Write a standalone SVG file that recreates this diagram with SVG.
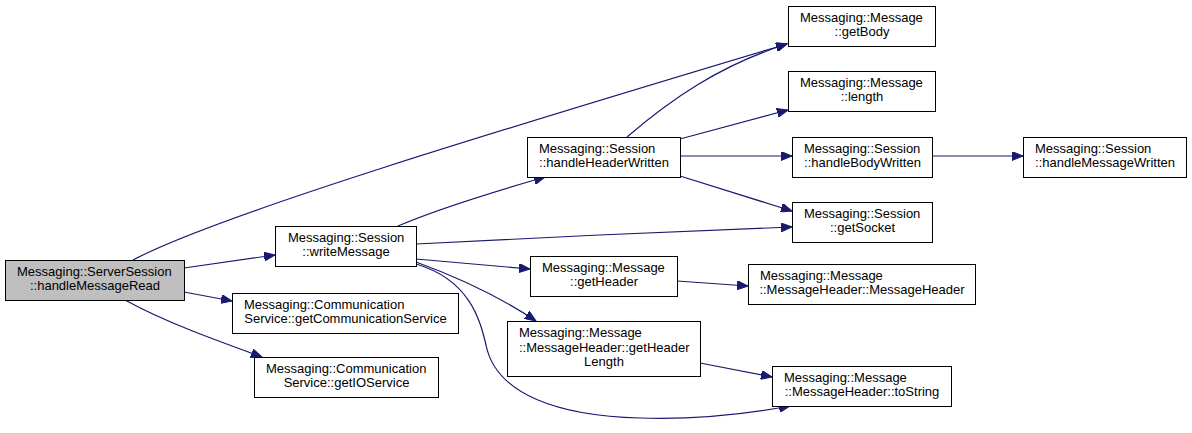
<svg xmlns="http://www.w3.org/2000/svg" width="1192" height="433" viewBox="0 0 1192 433">
<style>
.n rect{fill:#ffffff;stroke:#000000;stroke-width:1}
.n.root rect{fill:#bfbfbf}
.n text{font-family:"Liberation Sans",Arial,Helvetica,sans-serif;font-size:13px;fill:#000000}
.m{text-anchor:middle}
.e path{fill:none;stroke:#191970;stroke-width:1.2;marker-end:url(#ah)}
</style>
<defs>
<marker id="ah" markerUnits="userSpaceOnUse" markerWidth="12" markerHeight="9" refX="11" refY="4.5" orient="auto">
<path d="M0,0 L11,4.5 L0,9 z" fill="#191970" stroke="#191970" stroke-width="1"/>
</marker>
</defs>
<rect width="1192" height="433" fill="#ffffff"/>
<g class="e" id="edges">
<path d="M133,260 C 215,216 500,130 787,44"/>
<path d="M184,268 L275,255"/>
<path d="M184,292 L232,301"/>
<path d="M125,300 C 165,322 215,340 262,357"/>
<path d="M398,226 C 440,208 500,190 545,177"/>
<path d="M416,244 C 530,238 680,231 792,227"/>
<path d="M416,259 L530,269"/>
<path d="M416,262 C 460,278 500,297 536,321"/>
<path d="M416,264 C 470,280 480,320 486,345 C 496,395 560,416 640,418 C 700,420 752,413 790,406"/>
<path d="M627,137 C 670,100 720,65 787,44"/>
<path d="M680,139 L788,110"/>
<path d="M680,156 L792,156"/>
<path d="M680,176 L792,211"/>
<path d="M932,156 L1023,156"/>
<path d="M677,281 L748,286"/>
<path d="M700,363 L772,377"/>
</g>
<g class="n root" id="handleMessageRead">
<rect x="5.5" y="260.5" width="179" height="40"/>
<text x="17" y="276">Messaging::ServerSession</text>
<text class="m" x="95" y="290">::handleMessageRead</text>
</g>
<g class="n" id="writeMessage">
<rect x="275.5" y="226.5" width="141" height="40"/>
<text x="288" y="242">Messaging::Session</text>
<text class="m" x="346" y="256">::writeMessage</text>
</g>
<g class="n" id="getCommunicationService">
<rect x="232.5" y="293.5" width="226" height="40"/>
<text x="244" y="309">Messaging::Communication</text>
<text class="m" x="345.5" y="323">Service::getCommunicationService</text>
</g>
<g class="n" id="getIOService">
<rect x="254.5" y="357.5" width="184" height="40"/>
<text x="266" y="373">Messaging::Communication</text>
<text class="m" x="346.5" y="387">Service::getIOService</text>
</g>
<g class="n" id="handleHeaderWritten">
<rect x="527.5" y="137.5" width="153" height="40"/>
<text x="539" y="153">Messaging::Session</text>
<text class="m" x="604" y="167">::handleHeaderWritten</text>
</g>
<g class="n" id="getHeader">
<rect x="530.5" y="256.5" width="147" height="40"/>
<text x="542" y="272">Messaging::Message</text>
<text class="m" x="604" y="286">::getHeader</text>
</g>
<g class="n" id="getHeaderLength">
<rect x="507.5" y="321.5" width="193" height="55"/>
<text x="519" y="337">Messaging::Message</text>
<text x="519" y="351.5">::MessageHeader::getHeader</text>
<text class="m" x="604" y="366">Length</text>
</g>
<g class="n" id="getBody">
<rect x="788.5" y="6.5" width="147" height="40"/>
<text x="800" y="22">Messaging::Message</text>
<text class="m" x="862" y="36">::getBody</text>
</g>
<g class="n" id="length">
<rect x="788.5" y="71.5" width="147" height="40"/>
<text x="800" y="87">Messaging::Message</text>
<text class="m" x="862" y="101">::length</text>
</g>
<g class="n" id="handleBodyWritten">
<rect x="792.5" y="137.5" width="140" height="40"/>
<text x="804" y="153">Messaging::Session</text>
<text class="m" x="862.5" y="167">::handleBodyWritten</text>
</g>
<g class="n" id="getSocket">
<rect x="792.5" y="202.5" width="140" height="40"/>
<text x="804" y="218">Messaging::Session</text>
<text class="m" x="862.5" y="232">::getSocket</text>
</g>
<g class="n" id="MessageHeader">
<rect x="748.5" y="264.5" width="227" height="40"/>
<text x="760" y="280">Messaging::Message</text>
<text class="m" x="862" y="294">::MessageHeader::MessageHeader</text>
</g>
<g class="n" id="toString">
<rect x="772.5" y="366.5" width="179" height="40"/>
<text x="784" y="382">Messaging::Message</text>
<text class="m" x="862" y="396">::MessageHeader::toString</text>
</g>
<g class="n" id="handleMessageWritten">
<rect x="1023.5" y="137.5" width="163" height="40"/>
<text x="1035" y="153">Messaging::Session</text>
<text class="m" x="1105" y="167">::handleMessageWritten</text>
</g>
</svg>
